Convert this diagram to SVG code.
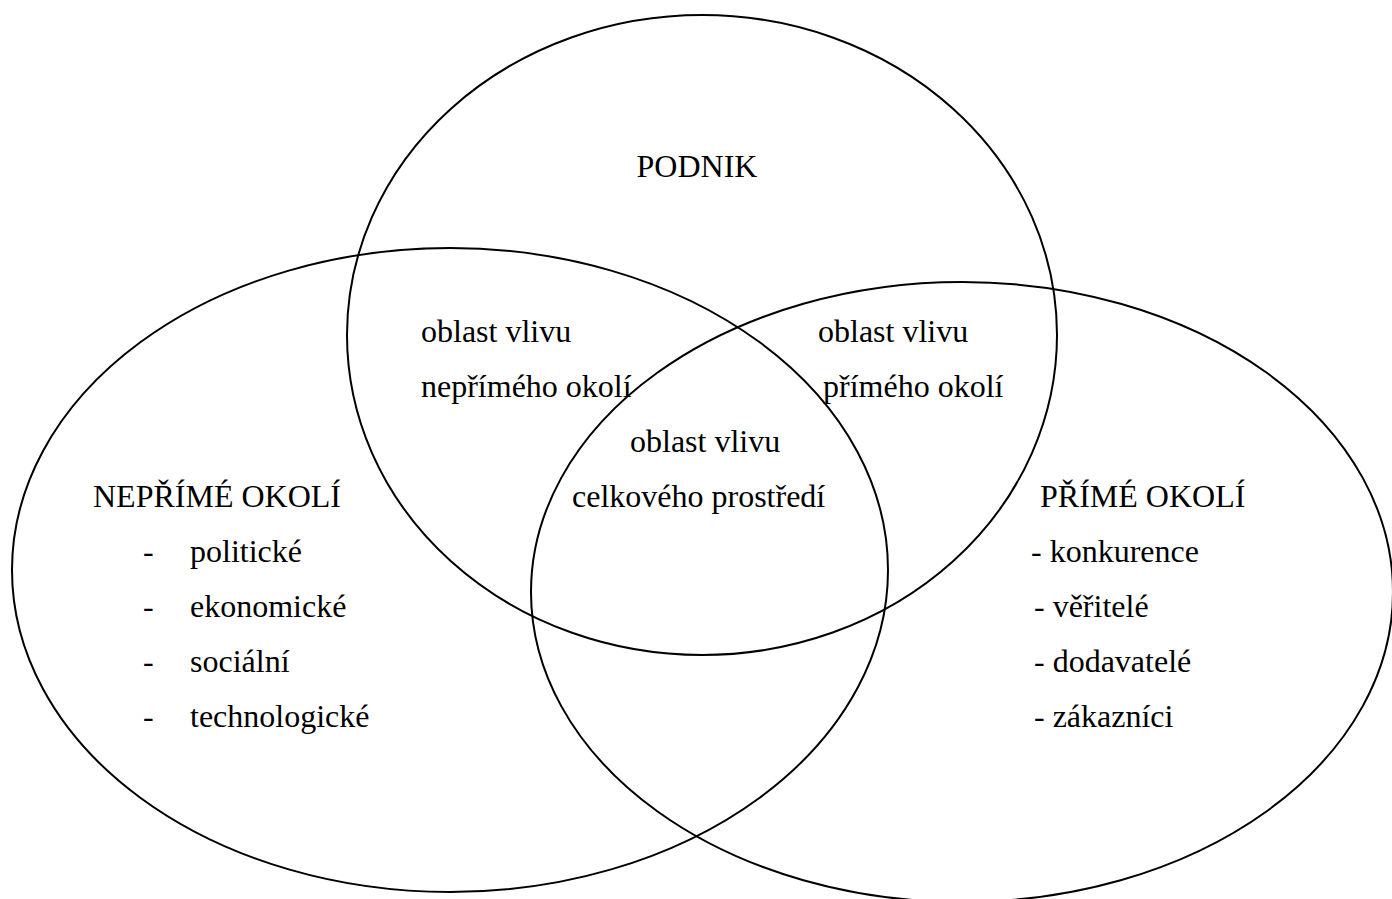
<svg xmlns="http://www.w3.org/2000/svg" width="1392" height="899" viewBox="0 0 1392 899">
<style>
.c{fill:none;stroke:#000;stroke-width:2}
text{font-family:"Liberation Serif","Times New Roman",serif;font-size:32px;fill:#000}
</style>
<rect width="1392" height="899" fill="#fff"/>
<g id="podnik">
<ellipse class="c" cx="702" cy="335" rx="355" ry="320"/>
<text x="697" y="177" text-anchor="middle">PODNIK</text>
</g>
<g id="neprime-okoli">
<ellipse class="c" cx="450" cy="570" rx="438" ry="322"/>
<text x="93" y="507">NEPŘÍMÉ OKOLÍ</text>
<text x="143" y="562">-</text><text x="190" y="562">politické</text>
<text x="143" y="617">-</text><text x="190" y="617">ekonomické</text>
<text x="143" y="672">-</text><text x="190" y="672">sociální</text>
<text x="143" y="727">-</text><text x="190" y="727">technologické</text>
</g>
<g id="prime-okoli">
<ellipse class="c" cx="962" cy="592" rx="431" ry="310"/>
<text x="1040" y="507">PŘÍMÉ OKOLÍ</text>
<text x="1031" y="562">- konkurence</text>
<text x="1034" y="617">- věřitelé</text>
<text x="1034" y="672">- dodavatelé</text>
<text x="1034" y="727">- zákazníci</text>
</g>
<g id="oblast-neprime">
<text x="421" y="342">oblast vlivu</text>
<text x="421" y="397">nepřímého okolí</text>
</g>
<g id="oblast-prime">
<text x="818" y="342">oblast vlivu</text>
<text x="823" y="397">přímého okolí</text>
</g>
<g id="oblast-celkove">
<text x="630" y="452">oblast vlivu</text>
<text x="572" y="507">celkového prostředí</text>
</g>
<g id="connectors"/>
</svg>
